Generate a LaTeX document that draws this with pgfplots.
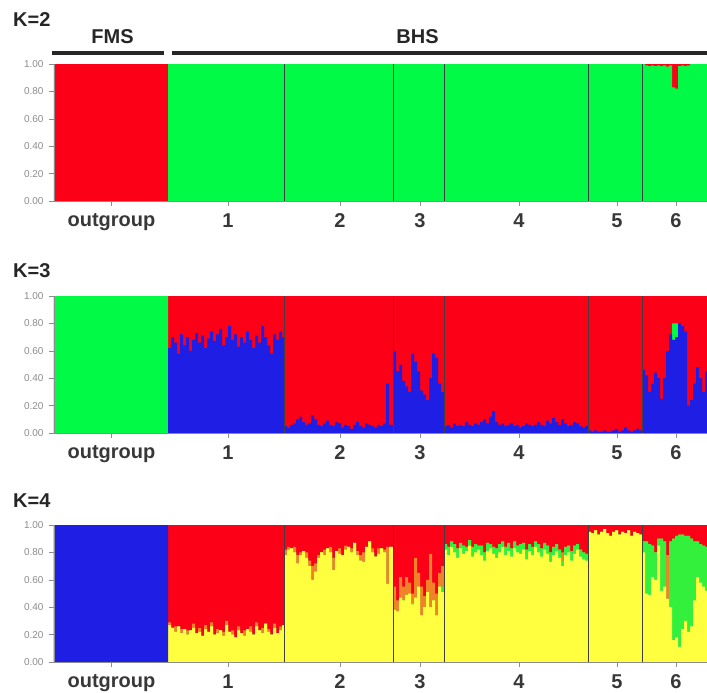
\documentclass[border=0pt]{standalone}
\usepackage{fontspec}
\setmainfont{Liberation Sans}
\usepackage{pgfplots}
\pgfplotsset{compat=1.18}
\usepackage{pgfplotstable}

\definecolor{cred}{RGB}{252,0,24}
\definecolor{cgreen}{RGB}{0,250,70}
\definecolor{cblue}{RGB}{30,30,228}
\definecolor{cyellow}{RGB}{255,255,64}
\definecolor{corange}{RGB}{240,130,40}
\definecolor{clgreen}{RGB}{50,240,60}

\pgfplotstableread{
x g
0 0
114 1
588 1
591 0.99
594 0.985
597 0.99
600 0.985
603 0.99
606 0.985
609 0.99
612 0.98
615 0.99
618 0.83
621 0.82
624 0.985
627 0.99
630 0.985
633 0.99
636 1
653 1
}\tabKtwo

\pgfplotstableread{
x b
0 0
114 0.62
117 0.70
120 0.66
123 0.58
126 0.72
129 0.64
132 0.70
135 0.60
138 0.68
141 0.73
144 0.66
147 0.71
150 0.62
153 0.69
156 0.74
159 0.67
162 0.72
165 0.76
168 0.64
171 0.70
174 0.78
177 0.68
180 0.72
183 0.63
186 0.70
189 0.66
192 0.74
195 0.68
198 0.62
201 0.71
204 0.66
207 0.78
210 0.70
213 0.64
216 0.58
219 0.72
222 0.68
225 0.74
228 0.70
230 0.05
233 0.04
236 0.06
239 0.07
242 0.10
245 0.12
248 0.08
251 0.06
254 0.07
257 0.13
260 0.10
263 0.06
266 0.05
269 0.07
272 0.09
275 0.06
278 0.05
281 0.08
284 0.07
287 0.04
290 0.06
293 0.05
296 0.03
299 0.06
302 0.08
305 0.05
308 0.04
311 0.07
314 0.06
317 0.05
320 0.04
323 0.06
326 0.05
329 0.07
332 0.36
335 0.06
339 0.60
342 0.45
345 0.50
348 0.38
351 0.34
354 0.30
357 0.58
360 0.52
363 0.45
366 0.31
369 0.28
372 0.24
375 0.40
378 0.58
381 0.55
384 0.36
387 0.30
390 0.05
393 0.06
396 0.04
399 0.07
402 0.05
405 0.06
408 0.05
411 0.08
414 0.06
417 0.05
420 0.07
423 0.06
426 0.08
429 0.10
432 0.07
435 0.12
438 0.16
441 0.08
444 0.06
447 0.07
450 0.05
453 0.06
456 0.07
459 0.05
462 0.06
465 0.04
468 0.05
471 0.07
474 0.06
477 0.05
480 0.06
483 0.08
486 0.06
489 0.05
492 0.09
495 0.07
498 0.11
501 0.08
504 0.06
507 0.10
510 0.07
513 0.05
516 0.06
519 0.08
522 0.07
525 0.05
528 0.04
531 0.05
534 0.02
537 0.01
540 0.02
543 0.01
546 0.01
549 0.02
552 0.01
555 0.01
558 0.02
561 0.03
564 0.01
567 0.02
570 0.04
573 0.02
576 0.01
579 0.02
582 0.03
585 0.02
588 0.46
591 0.42
594 0.30
597 0.36
600 0.44
603 0.40
606 0.25
609 0.40
612 0.60
615 0.72
618 0.68
621 0.70
624 0.80
627 0.78
630 0.74
633 0.20
636 0.24
639 0.36
642 0.48
645 0.40
648 0.30
651 0.45
653 0.45
}\tabKthree

\pgfplotstableread{
x y yg ygo
0 0 0 0
114 0.27 0.27 0.29
117 0.25 0.25 0.25
120 0.22 0.22 0.26
123 0.26 0.26 0.26
126 0.21 0.21 0.24
129 0.24 0.24 0.24
132 0.20 0.20 0.23
135 0.23 0.23 0.23
138 0.25 0.25 0.28
141 0.21 0.21 0.21
144 0.22 0.22 0.25
147 0.19 0.19 0.19
150 0.24 0.24 0.27
153 0.22 0.22 0.22
156 0.26 0.26 0.29
159 0.20 0.20 0.20
162 0.21 0.21 0.24
165 0.23 0.23 0.23
168 0.19 0.19 0.22
171 0.27 0.27 0.30
174 0.22 0.22 0.22
177 0.20 0.20 0.23
180 0.18 0.18 0.18
183 0.23 0.23 0.26
186 0.21 0.21 0.21
189 0.19 0.19 0.23
192 0.24 0.24 0.24
195 0.22 0.22 0.26
198 0.20 0.20 0.20
201 0.26 0.26 0.29
204 0.23 0.23 0.23
207 0.21 0.21 0.25
210 0.28 0.28 0.28
213 0.22 0.22 0.24
216 0.20 0.20 0.20
219 0.25 0.25 0.28
222 0.21 0.21 0.21
225 0.23 0.23 0.26
228 0.27 0.27 0.27
230 0.78 0.78 0.82
233 0.82 0.82 0.84
236 0.83 0.83 0.83
239 0.80 0.80 0.84
242 0.72 0.72 0.78
245 0.78 0.78 0.80
248 0.81 0.81 0.81
251 0.76 0.76 0.80
254 0.70 0.70 0.74
257 0.60 0.60 0.70
260 0.66 0.66 0.72
263 0.76 0.76 0.78
266 0.80 0.80 0.80
269 0.78 0.78 0.82
272 0.83 0.83 0.83
275 0.80 0.80 0.84
278 0.67 0.67 0.76
281 0.81 0.81 0.81
284 0.79 0.79 0.83
287 0.78 0.78 0.78
290 0.82 0.82 0.85
293 0.84 0.84 0.84
296 0.80 0.80 0.83
299 0.87 0.87 0.87
302 0.78 0.78 0.81
305 0.74 0.74 0.78
308 0.73 0.73 0.80
311 0.84 0.84 0.84
314 0.88 0.88 0.88
317 0.80 0.80 0.83
320 0.77 0.77 0.77
323 0.79 0.79 0.83
326 0.83 0.83 0.83
329 0.80 0.80 0.82
332 0.57 0.57 0.84
335 0.84 0.84 0.84
339 0.38 0.38 0.55
342 0.37 0.37 0.45
345 0.47 0.47 0.62
348 0.45 0.45 0.55
351 0.49 0.49 0.62
354 0.50 0.50 0.58
357 0.42 0.43 0.50
360 0.47 0.47 0.76
363 0.55 0.55 0.65
366 0.34 0.34 0.55
369 0.40 0.40 0.48
372 0.51 0.51 0.60
375 0.40 0.40 0.79
378 0.45 0.45 0.58
381 0.34 0.34 0.50
384 0.55 0.55 0.65
387 0.51 0.55 0.70
390 0.82 0.86 0.86
393 0.78 0.84 0.84
396 0.84 0.88 0.88
399 0.80 0.86 0.86
402 0.76 0.83 0.83
405 0.83 0.87 0.87
408 0.79 0.85 0.85
411 0.81 0.84 0.84
414 0.85 0.89 0.89
417 0.77 0.84 0.84
420 0.80 0.86 0.86
423 0.82 0.85 0.85
426 0.78 0.85 0.85
429 0.74 0.80 0.80
432 0.81 0.87 0.87
435 0.83 0.86 0.86
438 0.79 0.84 0.84
441 0.76 0.83 0.83
444 0.80 0.86 0.86
447 0.84 0.88 0.88
450 0.78 0.84 0.84
453 0.81 0.87 0.87
456 0.77 0.83 0.83
459 0.83 0.88 0.88
462 0.80 0.85 0.85
465 0.79 0.86 0.86
468 0.82 0.87 0.87
471 0.75 0.82 0.82
474 0.81 0.86 0.86
477 0.78 0.84 0.84
480 0.84 0.88 0.88
483 0.80 0.86 0.86
486 0.77 0.83 0.83
489 0.82 0.87 0.87
492 0.79 0.85 0.85
495 0.73 0.80 0.80
498 0.78 0.84 0.84
501 0.81 0.86 0.86
504 0.76 0.82 0.82
507 0.70 0.74 0.80
510 0.78 0.84 0.84
513 0.80 0.85 0.85
516 0.74 0.81 0.81
519 0.79 0.85 0.85
522 0.82 0.86 0.86
525 0.77 0.82 0.82
528 0.75 0.80 0.80
531 0.74 0.79 0.79
534 0.95 0.95 0.95
537 0.94 0.94 0.94
540 0.96 0.96 0.96
543 0.93 0.93 0.93
546 0.95 0.95 0.95
549 0.97 0.97 0.97
552 0.94 0.94 0.94
555 0.92 0.92 0.92
558 0.95 0.95 0.95
561 0.96 0.96 0.96
564 0.93 0.93 0.93
567 0.95 0.95 0.95
570 0.94 0.94 0.94
573 0.96 0.96 0.96
576 0.92 0.92 0.92
579 0.95 0.95 0.95
582 0.94 0.94 0.94
585 0.93 0.93 0.93
588 0.80 0.88 0.88
591 0.50 0.88 0.88
594 0.49 0.86 0.86
597 0.62 0.85 0.85
600 0.60 0.80 0.80
603 0.85 0.90 0.90
606 0.52 0.90 0.90
609 0.55 0.88 0.88
612 0.46 0.46 0.78
615 0.40 0.88 0.88
618 0.16 0.90 0.90
621 0.18 0.92 0.92
624 0.11 0.93 0.93
627 0.24 0.93 0.93
630 0.30 0.92 0.92
633 0.22 0.92 0.92
636 0.26 0.90 0.90
639 0.45 0.88 0.88
642 0.62 0.88 0.88
645 0.58 0.86 0.86
648 0.55 0.85 0.85
651 0.52 0.84 0.84
653 0.52 0.84 0.84
}\tabKfour

\pgfplotsset{
  struct/.style={
    width=653pt, height=137pt, scale only axis,
    xmin=0, xmax=653, ymin=0, ymax=1,
    axis x line*=bottom, axis y line*=left,
    axis line style={black!45, line width=0.6pt},
    axis on top,
    ytick={0,0.2,0.4,0.6,0.8,1},
    yticklabels={0.00,0.20,0.40,0.60,0.80,1.00},
    yticklabel style={font=\fontsize{10}{10}\selectfont, text=black!45, xshift=-2pt},
    xtick={57.5,174,286,366,465,563,622},
    xticklabels={outgroup,1,2,3,4,5,6},
    xticklabel style={font=\fontsize{20}{20}\selectfont\bfseries, text=black!78, yshift=-4pt},
    tick align=outside, major tick length=5pt,
    tick style={black!45, line width=0.6pt},
  },
  lay/.style={const plot, draw=none, fill=#1, mark=none},
  sep/.style={ycomb, black!75, line width=0.7pt, mark=none},
}

\begin{document}
\begin{tikzpicture}
\path[use as bounding box] (-54pt,-693pt) rectangle (653pt,0pt);
\tikzset{klab/.style={anchor=base west, inner sep=0pt, font=\fontsize{20}{20}\selectfont\bfseries, text=black!85}}
\node[klab] at (-41pt,-27pt) {K=2};
\node[klab] at (-41pt,-277pt) {K=3};
\node[klab] at (-41pt,-507pt) {K=4};
\node[anchor=base, inner sep=0pt, font=\fontsize{20}{20}\selectfont\bfseries, text=black!85] at (58.5pt,-44pt) {FMS};
\node[anchor=base, inner sep=0pt, font=\fontsize{20}{20}\selectfont\bfseries, text=black!85] at (363.5pt,-44pt) {BHS};
\draw[line width=4pt, black!85] (-2pt,-53pt) -- (110pt,-53pt);
\draw[line width=4pt, black!85] (118pt,-53pt) -- (653pt,-53pt);

\begin{axis}[struct, at={(0pt,-64pt)}, anchor=north west]
\addplot[lay=cred] coordinates {(0,1) (653,1)} \closedcycle;
\addplot[lay=cgreen] table[x=x,y=g] {\tabKtwo} \closedcycle;
\addplot[sep] coordinates {(230,1) (339,1) (390,1) (534,1) (588,1)};
\end{axis}

\begin{axis}[struct, at={(0pt,-296pt)}, anchor=north west]
\addplot[lay=cred] coordinates {(0,1) (653,1)} \closedcycle;
\addplot[lay=cgreen] coordinates {(0,1) (114,0) (618,0.80) (624,0) (653,0)} \closedcycle;
\addplot[lay=cblue] table[x=x,y=b] {\tabKthree} \closedcycle;
\addplot[sep] coordinates {(230,1) (339,1) (390,1) (534,1) (588,1)};
\end{axis}

\begin{axis}[struct, at={(0pt,-525pt)}, anchor=north west]
\addplot[lay=cred] coordinates {(0,1) (653,1)} \closedcycle;
\addplot[lay=corange] table[x=x,y=ygo] {\tabKfour} \closedcycle;
\addplot[lay=clgreen] table[x=x,y=yg] {\tabKfour} \closedcycle;
\addplot[lay=cyellow] table[x=x,y=y] {\tabKfour} \closedcycle;
\addplot[lay=cblue] coordinates {(0,1) (114,0) (653,0)} \closedcycle;
\addplot[sep] coordinates {(230,1) (339,1) (390,1) (534,1) (588,1)};
\end{axis}
\end{tikzpicture}
\end{document}
